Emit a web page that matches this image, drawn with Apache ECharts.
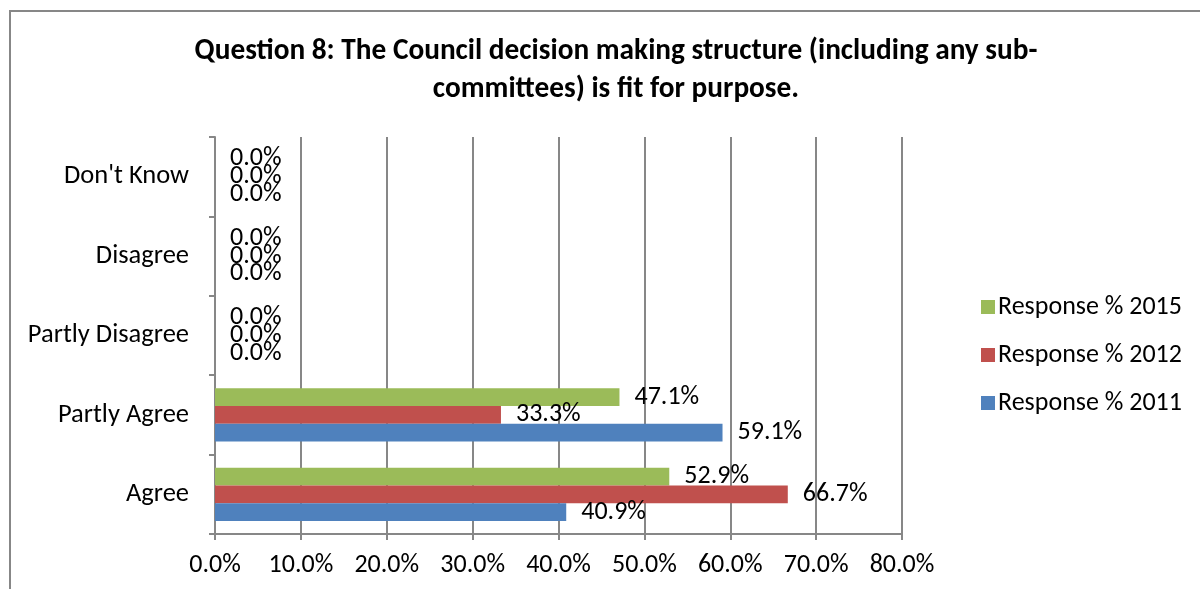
<!DOCTYPE html>
<html>
<head>
<meta charset="utf-8">
<script src="https://cdn.jsdelivr.net/npm/echarts@6/dist/echarts.min.js"></script>
<style>
  html, body { margin: 0; padding: 0; background: #fff; }
  #chart { width: 1200px; height: 589px; }
</style>
</head>
<body>
<div id="chart"></div>
<script>
// Survey answers, bottom to top on the category axis
const categories = ['Agree', 'Partly Agree', 'Partly Disagree', 'Disagree', "Don't Know"];
// Percentage of responses per answer
const response2011 = [40.9, 59.1, 0.0, 0.0, 0.0];
const response2012 = [66.7, 33.3, 0.0, 0.0, 0.0];
const response2015 = [52.9, 47.1, 0.0, 0.0, 0.0];
// Value axis ticks (percent)
const xTicks = [0, 10, 20, 30, 40, 50, 60, 70, 80];

const FONT = 'Carlito, Lato, sans-serif';
const GRID_COLOR = '#878787';

const chart = echarts.init(document.getElementById('chart'), null, { renderer: 'canvas' });

function barSeries(name, values, color) {
  return {
    name: name,
    type: 'bar',
    data: values,
    barGap: '0%',
    barCategoryGap: '33%',
    itemStyle: { color: color },
    label: {
      show: true,
      position: 'right',
      distance: 15,
      fontFamily: FONT,
      fontSize: 26,
      color: '#000',
      formatter: p => p.value.toFixed(1) + '%'
    },
    emphasis: { disabled: true },
    animation: false
  };
}

chart.setOption({
  animation: false,
  backgroundColor: '#fff',
  title: {
    text: 'Question 8: The Council decision making structure (including any sub-\ncommittees) is fit for purpose.',
    left: 611,
    textAlign: 'center',
    top: 28,
    textStyle: {
      fontFamily: FONT,
      fontWeight: 'bold',
      fontSize: 29.3,
      lineHeight: 38,
      color: '#000'
    }
  },
  graphic: [{
    type: 'rect',
    z: -10,
    shape: { x: 10, y: 11, width: 1400, height: 800 },
    style: { fill: 'none', stroke: GRID_COLOR, lineWidth: 2 },
    silent: true
  }],
  legend: {
    orient: 'vertical',
    left: 976,
    top: 289,
    itemWidth: 14,
    itemHeight: 14,
    itemGap: 22,
    icon: 'rect',
    data: ['Response % 2015', 'Response % 2012', 'Response % 2011'],
    textStyle: { fontFamily: FONT, fontSize: 26, color: '#000', padding: [0, 0, 0, -2] }
  },
  grid: { left: 215, right: 298, top: 137, bottom: 55, containLabel: false },
  xAxis: {
    type: 'value',
    min: xTicks[0],
    max: xTicks[xTicks.length - 1],
    interval: xTicks[1] - xTicks[0],
    axisLine: { show: true, lineStyle: { color: GRID_COLOR, width: 2 } },
    axisTick: { show: true, length: 6, lineStyle: { color: GRID_COLOR, width: 2 } },
    splitLine: { show: true, lineStyle: { color: GRID_COLOR, width: 2 } },
    axisLabel: {
      fontFamily: FONT, fontSize: 26, color: '#000', margin: 18,
      formatter: v => v.toFixed(1) + '%'
    }
  },
  yAxis: {
    type: 'category',
    data: categories,
    axisLine: { show: true, lineStyle: { color: GRID_COLOR, width: 2 } },
    axisTick: { show: true, length: 6, lineStyle: { color: GRID_COLOR, width: 2 } },
    splitLine: { show: false },
    axisLabel: { fontFamily: FONT, fontSize: 26.5, color: '#000', margin: 26 }
  },
  // Series order puts 2015 at the top of each group and 2011 at the bottom
  series: [
    barSeries('Response % 2015', response2015, '#9BBB59'),
    barSeries('Response % 2012', response2012, '#C0504D'),
    barSeries('Response % 2011', response2011, '#4F81BD')
  ]
});
</script>
</body>
</html>
